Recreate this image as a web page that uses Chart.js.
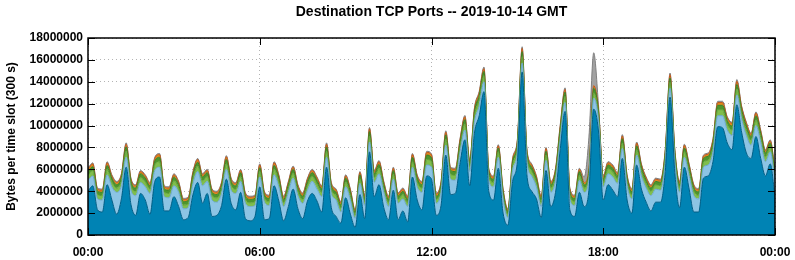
<!DOCTYPE html>
<html>
<head>
<meta charset="utf-8">
<script src="https://cdn.jsdelivr.net/npm/chart.js@4"></script>
<style>
    html, body { margin: 0; padding: 0; background: #fff; }
    #wrap { width: 795px; height: 260px; }
</style>
</head>
<body>
<div id="wrap"><canvas id="portsChart" width="795" height="260"></canvas></div>
<script>
// values in millions of bytes per 300 s slot, sampled every 10 minutes (00:00 .. 24:00)
const layerBlue = [
    4.0,4.5,2.3,2.1,4.6,3.2,1.9,3.3,6.2,2.8,1.8,3.8,
    3.2,1.9,4.9,5.3,2.2,2.2,3.5,2.6,1.4,1.6,3.7,4.8,
    2.9,3.8,1.7,1.8,2.7,5.1,2.9,2.3,3.9,1.5,1.3,1.7,
    4.4,1.4,1.5,4.5,3.1,1.3,2.6,4.2,2.4,1.5,3.1,3.8,
    3.1,2.1,6.2,2.5,1.7,1.1,3.4,1.9,0.7,3.7,1.5,7.6,
    3.5,4.6,2.5,1.4,4.1,1.4,2.2,1.2,5.3,3.2,2.3,5.4,
    5.1,1.8,2.7,7.3,3.7,3.8,6.6,8.7,4.5,9.3,10.9,13.1,
    4.0,3.2,6.1,2.0,0.9,4.9,6.7,14.9,5.5,4.0,3.3,1.6,
    5.9,2.6,3.9,7.9,11.3,2.3,1.7,3.9,2.6,4.1,11.5,9.5,
    3.2,4.6,4.1,3.5,7.0,3.2,2.0,6.4,4.2,3.0,2.2,3.0,
    3.0,5.8,12.6,5.7,2.5,6.2,4.2,2.1,2.1,5.2,5.4,6.7,
    9.9,9.8,8.4,7.8,11.9,9.4,7.5,7.0,9.0,7.0,5.4,6.5,
    3.5
];
const layerLightBlue = [
    1.0,0.9,1.0,1.1,0.9,1.2,2.0,1.2,0.9,1.3,1.8,1.0,
    1.2,1.9,1.0,0.9,1.3,1.2,1.0,1.3,1.0,0.9,1.0,1.0,
    1.6,1.1,1.5,1.2,1.1,0.9,1.2,1.5,1.0,1.4,1.3,1.0,
    0.9,1.6,1.2,1.0,1.3,1.3,1.3,1.0,1.2,1.4,1.0,1.1,
    1.1,1.4,0.9,1.3,1.5,1.0,1.0,1.3,0.8,1.0,1.2,0.9,
    1.3,1.0,1.4,1.2,1.0,1.5,1.1,1.4,0.9,1.2,1.6,1.0,
    1.1,1.1,1.2,0.9,1.4,1.2,1.0,0.9,1.3,1.0,0.9,0.9,
    1.0,1.2,1.0,1.3,0.7,1.0,0.9,0.8,1.2,1.4,1.1,1.0,
    0.9,1.3,1.1,0.9,0.8,1.0,1.0,1.1,1.3,1.0,1.0,1.0,
    1.2,1.0,1.2,1.2,0.9,1.3,1.3,0.9,1.2,1.3,1.4,1.2,
    1.1,0.9,0.8,1.0,1.4,0.9,1.2,1.5,1.2,1.0,1.0,0.9,
    1.0,1.1,1.2,1.3,0.9,1.2,1.6,1.2,1.0,1.5,1.3,1.1,
    1.4
];
const layerLightGreen = [
    0.45,0.50,0.40,0.40,0.50,0.45,0.40,0.45,0.55,0.45,0.40,0.45,
    0.45,0.40,0.50,0.50,0.40,0.40,0.45,0.40,0.35,0.35,0.45,0.50,
    0.45,0.45,0.40,0.40,0.40,0.50,0.45,0.40,0.45,0.35,0.35,0.35,
    0.50,0.35,0.35,0.50,0.45,0.35,0.40,0.45,0.40,0.35,0.45,0.45,
    0.45,0.40,0.55,0.40,0.40,0.35,0.45,0.40,0.30,0.45,0.35,0.55,
    0.45,0.50,0.40,0.35,0.45,0.35,0.40,0.35,0.50,0.45,0.40,0.50,
    0.50,0.35,0.40,0.55,0.45,0.45,0.50,0.55,0.45,0.55,0.55,0.55,
    0.45,0.40,0.50,0.35,0.30,0.45,0.50,0.60,0.50,0.45,0.40,0.35,
    0.50,0.40,0.45,0.55,0.55,0.40,0.35,0.45,0.40,0.40,0.50,0.45,
    0.40,0.45,0.45,0.40,0.50,0.40,0.35,0.50,0.45,0.40,0.40,0.40,
    0.40,0.50,0.55,0.50,0.40,0.50,0.45,0.40,0.35,0.45,0.45,0.50,
    0.55,0.55,0.50,0.50,0.55,0.50,0.50,0.45,0.50,0.45,0.45,0.45,
    0.40
];
const layerGreen = [
    0.35,0.35,0.30,0.30,0.35,0.35,0.30,0.35,0.40,0.35,0.30,0.35,
    0.35,0.30,0.35,0.40,0.30,0.30,0.35,0.30,0.30,0.30,0.35,0.35,
    0.35,0.35,0.30,0.30,0.35,0.40,0.35,0.30,0.35,0.30,0.30,0.30,
    0.35,0.30,0.30,0.35,0.35,0.30,0.30,0.35,0.30,0.30,0.35,0.35,
    0.35,0.30,0.40,0.30,0.30,0.30,0.35,0.30,0.25,0.35,0.30,0.40,
    0.35,0.35,0.30,0.30,0.35,0.30,0.30,0.30,0.40,0.35,0.30,0.40,
    0.35,0.30,0.30,0.40,0.35,0.35,0.40,0.40,0.35,0.40,0.40,0.40,
    0.35,0.30,0.35,0.30,0.25,0.35,0.35,0.45,0.35,0.35,0.30,0.30,
    0.35,0.30,0.35,0.40,0.40,0.30,0.30,0.35,0.30,0.35,0.40,0.35,
    0.30,0.35,0.35,0.30,0.40,0.30,0.30,0.35,0.35,0.30,0.30,0.30,
    0.30,0.35,0.40,0.35,0.30,0.35,0.35,0.30,0.30,0.35,0.35,0.35,
    0.40,0.40,0.35,0.35,0.40,0.35,0.35,0.35,0.40,0.35,0.35,0.35,
    0.30
];
const layerOrange = [
    0.20,0.25,0.20,0.20,0.25,0.20,0.20,0.20,0.25,0.20,0.20,0.20,
    0.20,0.20,0.25,0.25,0.20,0.20,0.20,0.20,0.20,0.20,0.20,0.25,
    0.20,0.20,0.20,0.20,0.20,0.25,0.20,0.20,0.20,0.20,0.20,0.20,
    0.25,0.20,0.20,0.25,0.20,0.20,0.20,0.20,0.20,0.20,0.20,0.20,
    0.20,0.20,0.25,0.20,0.20,0.20,0.20,0.20,0.15,0.20,0.20,0.25,
    0.20,0.25,0.20,0.20,0.20,0.20,0.20,0.20,0.25,0.20,0.20,0.25,
    0.25,0.20,0.20,0.25,0.20,0.20,0.25,0.25,0.20,0.25,0.25,0.25,
    0.20,0.20,0.20,0.20,0.15,0.20,0.20,0.30,0.20,0.20,0.20,0.20,
    0.25,0.20,0.20,0.25,0.25,0.20,0.20,0.20,0.20,0.20,0.25,0.20,
    0.20,0.20,0.20,0.20,0.25,0.20,0.20,0.25,0.20,0.20,0.20,0.20,
    0.20,0.20,0.30,0.20,0.20,0.25,0.20,0.20,0.20,0.20,0.20,0.25,
    0.25,0.25,0.25,0.25,0.30,0.25,0.25,0.20,0.25,0.20,0.20,0.20,
    0.20
];
const layerGrey = [
    0.10,0.10,0.10,0.10,0.10,0.10,0.10,0.10,0.12,0.10,0.10,0.10,
    0.10,0.10,0.10,0.10,0.10,0.10,0.10,0.10,0.10,0.10,0.10,0.10,
    0.10,0.10,0.10,0.10,0.10,0.10,0.10,0.10,0.10,0.10,0.10,0.10,
    0.10,0.10,0.10,0.10,0.10,0.10,0.10,0.10,0.10,0.10,0.10,0.10,
    0.10,0.10,0.12,0.10,0.10,0.10,0.10,0.10,0.10,0.10,0.10,0.12,
    0.10,0.10,0.10,0.10,0.10,0.10,0.10,0.10,0.10,0.10,0.10,0.10,
    0.10,0.10,0.10,0.12,0.10,0.10,0.10,0.12,0.10,0.12,0.12,0.15,
    0.10,0.10,0.10,0.10,0.10,0.10,0.10,0.15,0.10,0.10,0.10,0.10,
    0.10,0.10,0.10,0.15,0.15,0.10,0.10,0.10,0.50,2.90,3.00,0.40,
    0.10,0.10,0.10,0.10,0.12,0.10,0.10,0.10,0.10,0.10,0.10,0.10,
    0.10,0.10,0.15,0.10,0.10,0.10,0.10,0.10,0.10,0.10,0.10,0.10,
    0.12,0.12,0.10,0.10,0.15,0.10,0.10,0.10,0.10,0.10,0.10,0.10,
    0.10
];

const slotHours = layerBlue.map((v, i) => i / 6);
const hourTicks = [0, 6, 12, 18, 24];
const hourLabels = ['00:00', '06:00', '12:00', '18:00', '00:00'];
const byteTicks = [0, 2, 4, 6, 8, 10, 12, 14, 16, 18];
const chartTitle = 'Destination TCP Ports -- 2019-10-14 GMT';

const FONT = '"Liberation Sans", Arial, sans-serif';

function series(values) {
    return values.map((v, i) => ({ x: slotHours[i], y: v }));
}

function layer(values, fill, edge, first) {
    return {
        data: series(values),
        backgroundColor: fill,
        borderColor: edge,
        borderWidth: 1,
        pointRadius: 0,
        cubicInterpolationMode: 'monotone',
        fill: first ? 'origin' : '-1'
    };
}

// frame, inside tics and centred title like the gnuplot original
const framePlugin = {
    id: 'framePlugin',
    afterDraw(chart) {
        const { ctx, chartArea: a, scales } = chart;
        ctx.save();
        ctx.strokeStyle = '#000';
        ctx.lineWidth = 1;
        ctx.beginPath();
        byteTicks.forEach(v => {
            const y = Math.round(scales.y.getPixelForValue(v)) + 0.5;
            ctx.moveTo(a.left, y); ctx.lineTo(a.left + 7, y);
            ctx.moveTo(a.right, y); ctx.lineTo(a.right - 7, y);
        });
        hourTicks.forEach(v => {
            const x = Math.round(scales.x.getPixelForValue(v)) + 0.5;
            ctx.moveTo(x, a.top); ctx.lineTo(x, a.top + 7);
            ctx.moveTo(x, a.bottom); ctx.lineTo(x, a.bottom - 7);
        });
        ctx.stroke();
        ctx.lineWidth = 1.5;
        ctx.strokeRect(a.left, a.top, a.right - a.left, a.bottom - a.top);
        ctx.fillStyle = '#000';
        ctx.font = 'bold 14px ' + FONT;
        ctx.textAlign = 'center';
        ctx.textBaseline = 'middle';
        ctx.fillText(chartTitle, (a.left + a.right) / 2, 12);
        ctx.restore();
    }
};

const ctx = document.getElementById('portsChart').getContext('2d');
const portsChart = new Chart(ctx, {
    type: 'line',
    data: {
        datasets: [
            layer(layerBlue, '#0083b4', '#005e86', true),
            layer(layerLightBlue, '#8cc4e4', '#6aa6cb'),
            layer(layerLightGreen, '#7fbe4c', '#5f9c36'),
            layer(layerGreen, '#4d962d', '#3d7d22'),
            layer(layerOrange, '#e38a1e', '#c0561a'),
            layer(layerGrey, '#a2a2a2', '#808080')
        ]
    },
    plugins: [framePlugin],
    options: {
        responsive: false,
        animation: false,
        layout: {
            padding: { top: 38, right: 20, bottom: 0, left: 0 }
        },
        plugins: {
            legend: { display: false },
            title: { display: false },
            tooltip: { enabled: false }
        },
        scales: {
            x: {
                type: 'linear',
                min: 0,
                max: 24,
                afterFit: scale => {
                    scale.height = 25;
                    scale.paddingLeft = 0;
                    scale.paddingRight = 0;
                },
                afterBuildTicks: scale => { scale.ticks = hourTicks.map(v => ({ value: v })); },
                grid: { color: '#b4b4b4', drawTicks: false },
                border: { display: false, dash: [1, 3] },
                ticks: {
                    padding: 10,
                    color: '#000',
                    maxRotation: 0,
                    font: { family: FONT, size: 12, weight: 'bold' },
                    callback: (v, i) => hourLabels[i]
                }
            },
            y: {
                stacked: true,
                min: 0,
                max: 18,
                afterFit: scale => { scale.width = 88; },
                afterBuildTicks: scale => { scale.ticks = byteTicks.map(v => ({ value: v })); },
                grid: { color: '#b4b4b4', drawTicks: false },
                border: { display: false, dash: [1, 3] },
                ticks: {
                    padding: 5,
                    color: '#000',
                    font: { family: FONT, size: 12, weight: 'bold' },
                    callback: v => String(Math.round(v * 1000000))
                },
                title: {
                    display: true,
                    text: 'Bytes per time slot (300 s)',
                    color: '#000',
                    padding: { top: 4, bottom: 0 },
                    font: { family: FONT, size: 12, weight: 'bold' }
                }
            }
        }
    }
});
</script>
</body>
</html>
